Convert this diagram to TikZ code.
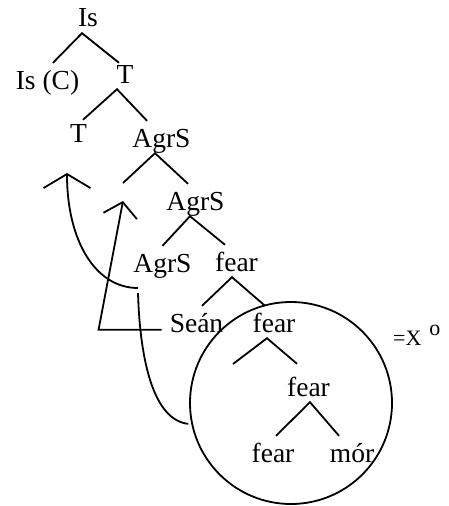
\documentclass[tikz,border=0pt]{standalone}
\usepackage{fontspec}
\setmainfont{Liberation Serif}
\usetikzlibrary{arrows.meta,positioning}

\begin{document}
\begin{tikzpicture}[x=1pt, y=-1pt,
  cat/.style={anchor=base, inner sep=0pt, text height=26pt, text depth=6pt, font=\fontsize{27.5}{30}\selectfont},
  branch/.style={line width=1.8pt},
  move/.style={line width=1.8pt, -{Straight Barb[length=14pt, width=#1]}}]
  \useasboundingbox (0,0) rectangle (448,506);

  % Tree labels
  \node[cat] (is) at (88,27) {Is};
  \node[cat] (isc) at (47.5,89) {Is (C)};
  \node[cat] (t) at (125,83) {T};
  \node[cat] (tl) at (78.5,142) {T};
  \node[cat] (agrs) at (161.5,147) {AgrS};
  \node[cat] (agrs2) at (195.5,210) {AgrS};
  \node[cat] (agrs3) at (162.5,272) {AgrS};
  \node[cat] (fear1) at (236.5,271) {fear};
  \node[cat] (sean) at (196.5,332) {Seán};
  \node[cat] (fear2) at (274,332) {fear};
  \node[cat] (fear3) at (308.5,396) {fear};
  \node[cat] (fear4) at (273,462) {fear};
  \node[cat] (mor) at (352,462) {mór};

  % Empty positions
  \coordinate (agrs-spec) at (123,183);
  \coordinate (fear-spec) at (233,364);

  % Branches
  \draw[branch] ([xshift=5.5pt]isc.north) -- ([xshift=-6pt]is.south) -- ([xshift=-6pt,yshift=-6pt]t.north);
  \draw[branch] ([xshift=4.5pt,yshift=-4pt]tl.north) -- ([xshift=-8pt]t.south) -- ([xshift=-14.5pt]agrs.north);
  \draw[branch] (agrs-spec) -- ([xshift=-6.5pt]agrs.south) -- ([xshift=-7.5pt]agrs2.north);
  \draw[branch] (agrs3.north) -- ([xshift=-5.5pt]agrs2.south) -- ([xshift=-11.5pt]fear1.north);
  \draw[branch] ([xshift=5.5pt]sean.north) -- ([xshift=-4.5pt]fear1.south) -- ([xshift=-9pt]fear2.north);
  \draw[branch] (fear-spec) -- ([xshift=-7pt]fear2.south) -- ([xshift=-11.5pt,yshift=6pt]fear3.north);
  \draw[branch] ([xshift=3pt]fear4.north) -- ([xshift=1.5pt]fear3.south) -- ([xshift=-13pt]mor.north);

  % Circled head
  \node[draw, circle, line width=1.8pt, minimum size=202pt, inner sep=0pt] (xcirc) at (291,403) {};
  \node[anchor=base west, inner sep=0pt, font=\fontsize{22}{24}\selectfont] (xo) at (393,345) {=X\hspace{8pt}\raisebox{10pt}{o}};

  % Movement
  \coordinate (t-land) at (67,173);
  \coordinate (agr-via) at (138,290);
  \draw[move=34pt] (sean.mid west) ++(-8,0) -- ++(-63,0) -- ([yshift=-18pt]agrs-spec);
  \draw[move=47pt] (agr-via) ++(0,-2) .. controls +(-43,0) and +(0,67) .. (t-land);
  \draw[branch, shorten >=3pt] (agr-via) ++(0,3) .. controls +(2,67) and +(-38,-4) .. (xcirc.192);
\end{tikzpicture}
\end{document}
